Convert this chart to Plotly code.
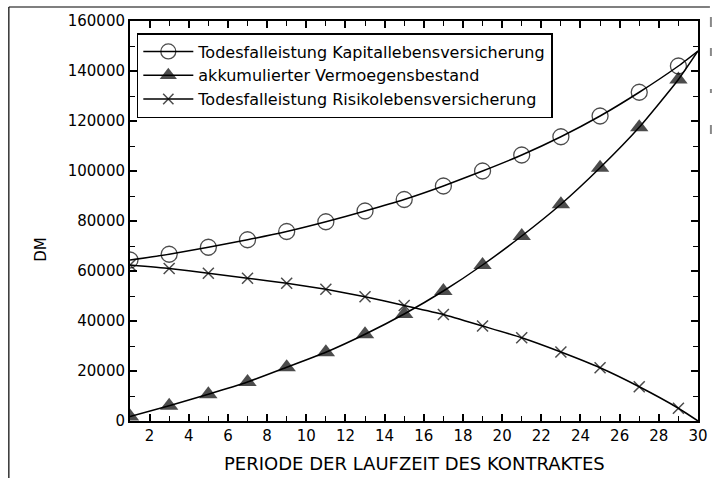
import plotly.graph_objects as go

periode = [1, 3, 5, 7, 9, 11, 13, 15, 17, 19, 21, 23, 25, 27, 29, 30]
kapital = [64400, 66700, 69500, 72500, 75800, 79700, 84000, 88600, 94000,
           100000, 106400, 113700, 122000, 131500, 142000, 148000]
vermoegen = [1800, 6100, 10700, 15600, 21500, 27500, 34700, 42800, 52000,
             62400, 74000, 86700, 101300, 117500, 136600, 148000]
risiko = [62400, 61000, 59100, 57100, 55100, 52700, 49700, 46200, 42600,
          38000, 33300, 27600, 21300, 13700, 5100, 0]

x_ticks = list(range(2, 31, 2))
names = ["Todesfalleistung Kapitallebensversicherung",
         "akkumulierter Vermoegensbestand",
         "Todesfalleistung Risikolebensversicherung"]

FONT = "DejaVu Sans"

def sizes(n, s):
    return [s] * (n - 1) + [0]

fig = go.Figure()
fig.add_trace(go.Scatter(
    x=periode, y=kapital, name=names[0], mode="lines+markers",
    line=dict(color="black", width=1.5, shape="spline", smoothing=0.5),
    marker=dict(symbol="circle-open", size=sizes(len(periode), 16),
                color="black", line=dict(width=1.3, color="black"))))
fig.add_trace(go.Scatter(
    x=periode, y=vermoegen, name=names[1], mode="lines+markers",
    line=dict(color="black", width=1.5, shape="spline", smoothing=0.5),
    marker=dict(symbol="triangle-up", size=sizes(len(periode), 16),
                color="black", line=dict(width=0))))
fig.add_trace(go.Scatter(
    x=periode, y=risiko, name=names[2], mode="lines+markers",
    line=dict(color="black", width=1.5, shape="spline", smoothing=0.5),
    marker=dict(symbol="x-thin", size=sizes(len(periode), 11),
                color="black", line=dict(width=1.5, color="black"))))

axis_common = dict(showline=True, linecolor="black", linewidth=2, mirror="allticks",
                   ticks="inside", tickcolor="black", showgrid=False, zeroline=False,
                   tickfont=dict(family=FONT, size=15, color="black"))

fig.update_xaxes(range=[1, 30], tickmode="array", tickvals=x_ticks,
                 ticktext=[str(v) for v in x_ticks], ticklen=7, tickwidth=1.5,
                 minor=dict(dtick=1, ticks="inside", ticklen=5, tickcolor="black", tickwidth=1.2),
                 **axis_common)
fig.update_yaxes(range=[0, 160000], dtick=20000, tickformat="d", ticklen=7, tickwidth=1.5,
                 minor=dict(dtick=10000, ticks="inside", ticklen=5, tickcolor="black", tickwidth=1.2),
                 **axis_common)

def px_x(p):
    return (p - 130) / 572

def px_y(p):
    return (421 - p) / 400

shapes = [
    dict(type="line", xref="paper", yref="paper",
         x0=px_x(8), x1=px_x(714), y0=px_y(7), y1=px_y(7),
         line=dict(color="black", width=1.2)),
    dict(type="line", xref="paper", yref="paper",
         x0=px_x(8), x1=px_x(8), y0=px_y(7), y1=px_y(478),
         line=dict(color="black", width=1.2)),
]
for a, b in [(17, 27), (48, 56), (89, 93), (125, 134)]:
    shapes.append(dict(type="line", xref="paper", yref="paper",
                       x0=px_x(715), x1=px_x(715), y0=px_y(a), y1=px_y(b),
                       line=dict(color="#888888", width=2)))

fig.update_layout(
    width=720, height=478,
    margin=dict(l=130, r=18, t=21, b=57),
    paper_bgcolor="white", plot_bgcolor="white",
    showlegend=True,
    legend=dict(x=0.012, y=0.97, xanchor="left", yanchor="top",
                bgcolor="white", bordercolor="black", borderwidth=1.5,
                font=dict(family=FONT, size=16, color="black"),
                itemwidth=50, tracegroupgap=0),
    annotations=[
        dict(text="PERIODE DER LAUFZEIT DES KONTRAKTES", xref="paper", yref="paper",
             x=0.5, y=-0.105, xanchor="center", yanchor="middle", showarrow=False,
             font=dict(family=FONT, size=18, color="black")),
        dict(text="DM", xref="paper", yref="paper", x=-0.157, y=0.43,
             xanchor="center", yanchor="middle", textangle=-90, showarrow=False,
             font=dict(family="Liberation Sans Narrow, DejaVu Sans", size=15, color="black")),
    ],
    shapes=shapes,
)

fig.write_html("out.html", config={"displayModeBar": False},
               post_script="document.body.style.margin='0';document.body.style.padding='0';")
